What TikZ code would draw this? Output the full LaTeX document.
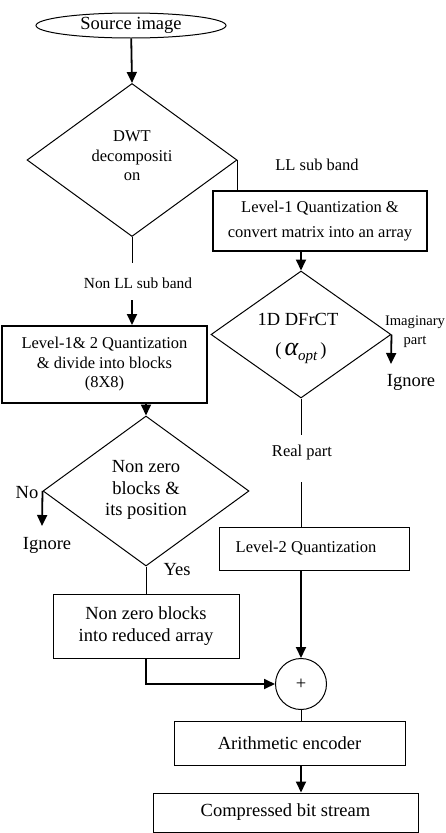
\documentclass[tikz,border=0pt]{standalone}
\usepackage{fontspec}
\setmainfont{Liberation Serif}
\usetikzlibrary{shapes.geometric,arrows.meta}
\newcommand\fbig{\rmfamily\fontsize{18.5}{21.5}\selectfont}
\newcommand\fmid{\rmfamily\fontsize{16.5}{19.5}\selectfont}
\begin{document}
\begin{tikzpicture}[x=1pt,y=-1pt,
  box/.style={draw,line width=1pt,inner sep=0pt,align=center},
  dia/.style={draw,diamond,line width=1pt,inner sep=0pt},
  lbl/.style={inner sep=0pt,align=center},
  arr/.style={line width=1.8pt,-{Triangle[width=10pt,length=11pt]}},
  ln/.style={line width=1pt}]
\useasboundingbox (0,0) rectangle (445,833);
% nodes
\node[draw,ellipse,line width=1pt,inner sep=0pt,minimum width=190pt,minimum height=25pt,font=\fbig] (src) at (131,25.5) {Source image};
\node[dia,minimum width=210pt,minimum height=153pt] (dwt) at (132,160) {};
\node[lbl,font=\fmid] (dwtt) at (132,156) {DWT\\decompositi\\on};
\node[lbl,font=\fmid] (ll) at (317,165) {LL sub band};
\node[box,line width=1.4pt,minimum width=214pt,minimum height=60pt,font=\rmfamily\fontsize{16.5}{25}\selectfont] (l1) at (320,221) {Level-1 Quantization \&\\convert matrix into an array};
\node[dia,minimum width=180pt,minimum height=127pt] (dfr) at (301,334.5) {};
\node[lbl,font=\fbig] (dfrt) at (298,319) {1D DFrCT};
\node[lbl,font=\fbig] (alph) at (301,353) {(\,{\fontsize{26}{26}\selectfont\itshape α}\raisebox{-5pt}{\fontsize{15}{15}\selectfont\itshape opt}\,)};
\node[lbl,font=\rmfamily\fontsize{14.6}{19}\selectfont] (imag) at (415,332) {Imaginary\\part};
\coordinate (imagend) at (391,364);
\node[lbl,font=\fbig] (ign1) at (411,382) {Ignore};
\coordinate (r1) at (301,435);
\node[lbl,font=\fmid] (real) at (302,453) {Real part};
\coordinate (r2) at (301,482);
\node[box,minimum width=190pt,minimum height=43pt,font=\fmid] (l2) at (314,548.5) {Level-2 Quantization\hspace*{16pt}};
\node[draw,circle,line width=1pt,inner sep=0pt,minimum size=51pt,font=\fbig] (plus) at (301,684) {+};
\node[box,minimum width=231pt,minimum height=44pt,font=\fbig] (ar) at (289.5,743) {Arithmetic encoder};
\node[box,minimum width=265pt,minimum height=39pt,font=\fbig] (cb) at (285.5,812.5) {Compressed bit stream};
% left branch
\coordinate (n1) at (132,263);
\node[lbl,font=\rmfamily\fontsize{15.4}{18}\selectfont] (nonll) at (138,283) {Non LL sub band};
\coordinate (n2) at (132,300);
\node[box,line width=2pt,minimum width=205pt,minimum height=77pt,font=\fmid] (l12) at (104.5,364.5) {Level-1\& 2 Quantization\\\& divide into blocks\\(8X8)};
\node[dia,minimum width=206pt,minimum height=150pt] (nz) at (146,491) {};
\node[lbl,font=\fbig] (nzt) at (146,490) {Non zero\\blocks \&\\its position};
\node[lbl,font=\fbig] (no) at (27,493) {No};
\coordinate (noend) at (42,526);
\node[lbl,font=\fbig] (ign2) at (47,545) {Ignore};
\node[lbl,font=\fbig] (yes) at (177,570) {Yes};
\node[box,minimum width=186pt,minimum height=64pt,font=\fbig] (nzb) at (146,626) {Non zero blocks\\into reduced array};
% connectors
\draw[arr] (src) -- (dwt.north);
\draw[ln] (dwt.east) -- (dwt.east |- l1.north);
\draw[arr] (dfr.north |- l1.south) -- (dfr.north);
\draw[arr] (dfr.east) -- (imagend);
\draw[ln] (dfr.south) -- (r1);
\draw[ln] (r2) -- (r2 |- l2.north);
\draw[arr] (plus.north |- l2.south) -- (plus.north);
\draw[ln] (plus.south) -- (plus.south |- ar.north);
\draw[arr] (plus.south |- ar.south) -- (plus.south |- cb.north);
\draw[ln] (dwt.south) -- (n1);
\draw[arr] (n2) -- (n2 |- l12.north);
\draw[arr] (nz.north |- l12.south) -- (nz.north);
\draw[arr] (nz.west) -- (noend);
\draw[ln] (nz.south) -- (nzb.north);
\draw[arr] (nzb.south) |- (plus.west);
\end{tikzpicture}
\end{document}
